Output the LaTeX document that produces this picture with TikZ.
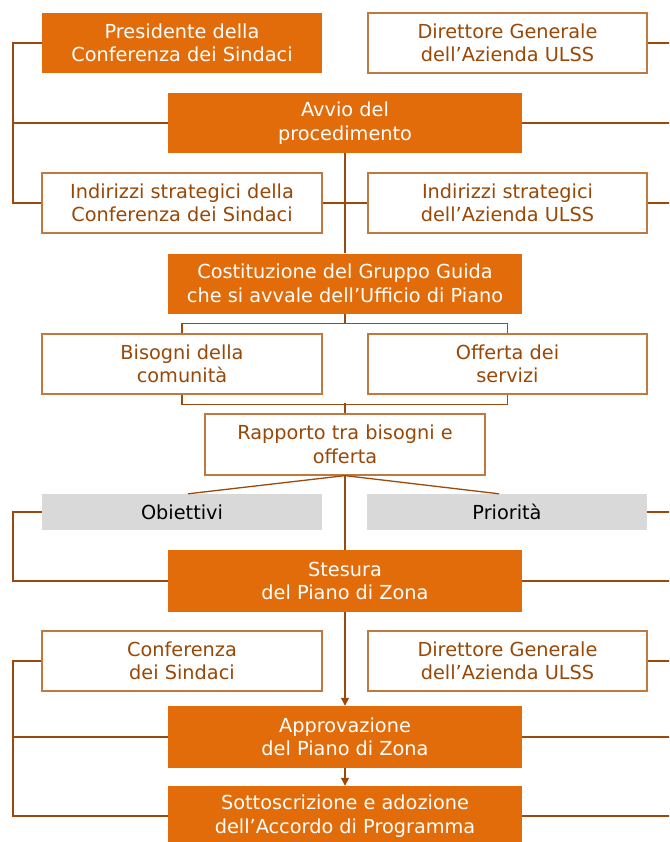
\documentclass[tikz,border=0pt]{standalone}
\usepackage{fontspec}
\setmainfont{DejaVu Sans}
\usetikzlibrary{arrows.meta,calc}
\definecolor{orfill}{HTML}{E36C0A}
\definecolor{brline}{HTML}{9A4A0C}
\definecolor{brbox}{HTML}{C07A40}
\definecolor{brtext}{HTML}{984807}
\definecolor{grfill}{HTML}{D9D9D9}
\tikzset{
  base/.style={inner sep=0pt, align=center, font=\fontsize{19.3}{23.5}\selectfont},
  obox/.style={base, fill=orfill, text=white, minimum width=354pt, minimum height=60pt},
  wbox/.style={base, draw=brbox, line width=1.2pt, fill=white, text=brtext, minimum width=280pt, minimum height=60pt},
  pbox/.style={base, fill=orfill, text=white, minimum width=280pt, minimum height=60pt},
  gbox/.style={base, fill=grfill, text=black, minimum width=280pt, minimum height=36pt},
  conn/.style={draw=brline, line width=1.3pt},
  arr/.style={conn, -{Triangle[width=8pt,length=8pt]}}
}
\begin{document}
\begin{tikzpicture}[x=1pt,y=-1pt]
\useasboundingbox (0,0) rectangle (669,842);
\clip (0,0) rectangle (669,842);
% nodes
\node[pbox] (pres) at (182,43) {Presidente della\\Conferenza dei Sindaci};
\node[wbox, minimum width=279pt] (dir1) at (507.5,43) {Direttore Generale\\dell’Azienda ULSS};
\node[obox] (avvio) at (345,123) {Avvio del\\procedimento};
\node[wbox] (ind1) at (182,203) {Indirizzi strategici della\\Conferenza dei Sindaci};
\node[wbox, minimum width=279pt] (ind2) at (507.5,203) {Indirizzi strategici\\dell’Azienda ULSS};
\node[obox] (cost) at (345,283.5) {Costituzione del Gruppo Guida\\che si avvale dell’Ufficio di Piano};
\node[wbox] (bis) at (182,364) {Bisogni della\\comunità};
\node[wbox, minimum width=279pt] (off) at (507.5,364) {Offerta dei\\servizi};
\node[wbox, minimum height=61pt] (rap) at (345,444.5) {Rapporto tra bisogni e\\offerta};
\node[gbox] (obi) at (182,512) {Obiettivi};
\node[gbox] (pri) at (507,512) {Priorità};
\node[obox, minimum height=62pt] (stes) at (345,581) {Stesura\\del Piano di Zona};
\node[wbox] (conf) at (182,661) {Conferenza\\dei Sindaci};
\node[wbox, minimum width=279pt] (dir2) at (507.5,661) {Direttore Generale\\dell’Azienda ULSS};
\node[obox, minimum height=62pt] (appr) at (345,737) {Approvazione\\del Piano di Zona};
\node[obox] (sott) at (345,816) {Sottoscrizione e adozione\\dell’Accordo di Programma};
% bus coordinates
\coordinate (L1) at (13,43);
\coordinate (L2) at (13,123);
\coordinate (L3) at (13,203);
\coordinate (L4) at (13,512);
\coordinate (L5) at (13,581);
\coordinate (L6) at (13,661);
\coordinate (L7) at (13,737);
\coordinate (L8) at (13,816);
\coordinate (R1) at (675,43);
\coordinate (R2) at (675,123);
\coordinate (R3) at (675,203);
\coordinate (R4) at (675,512);
\coordinate (R5) at (675,581);
\coordinate (R6) at (675,661);
\coordinate (R7) at (675,737);
\coordinate (R8) at (675,816);
\coordinate (obiTop) at ($(obi.north)+(6,0)$);
\coordinate (priTop) at ($(pri.north)+(-8,0)$);
% left buses
\draw[conn] (pres.west) -- (L1) -- (L3) -- (ind1.west);
\draw[conn] (L2) -- (avvio.west);
\draw[conn] (obi.west) -- (L4) -- (L5) -- (stes.west);
\draw[conn] (conf.west) -- (L6) -- (L8) -- (sott.west);
\draw[conn] (L7) -- (appr.west);
% right edges
\draw[conn] (dir1.east) -- (R1);
\draw[conn] (avvio.east) -- (R2);
\draw[conn] (ind2.east) -- (R3);
\draw[conn] (pri.east) -- (R4);
\draw[conn] (stes.east) -- (R5);
\draw[conn] (dir2.east) -- (R6);
\draw[conn] (appr.east) -- (R7);
\draw[conn] (sott.east) -- (R8);
% centre
\draw[conn] (avvio.south) -- (cost.north);
\draw[conn] (ind1.east) -- (ind2.west);
\draw[conn] (cost.south) -- ++(0,10) -| (bis.north);
\draw[conn] (cost.south) -- ++(0,10) -| (off.north);
\draw[conn] (bis.south) -- ++(0,10) -| (off.south);
\draw[conn] (rap.north) -- ++(0,-10);
\draw[conn] (rap.south) -- (obiTop);
\draw[conn] (rap.south) -- (priTop);
\draw[conn] (rap.south) -- (stes.north);
\draw[arr] (stes.south) -- (appr.north);
\draw[arr] (appr.south) -- (sott.north);
\end{tikzpicture}
\end{document}
